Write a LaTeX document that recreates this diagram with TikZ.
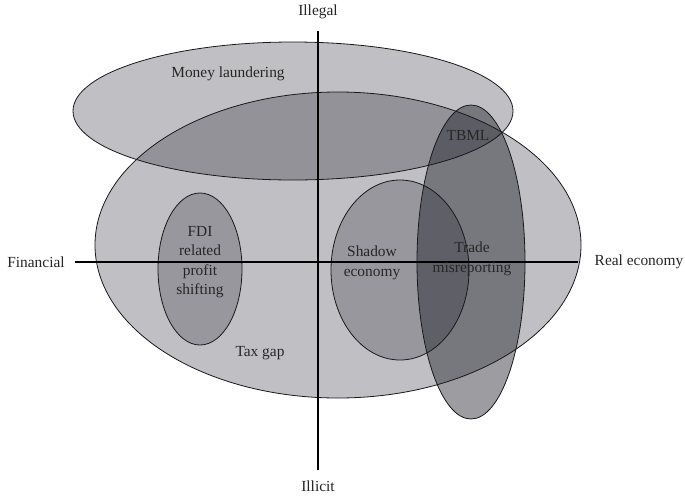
\documentclass[tikz,border=0pt]{standalone}
\usepackage{fontspec}
\setmainfont{Liberation Serif}
\begin{document}
\begin{tikzpicture}[x=1pt,y=-1pt,
  region/.style={fill={rgb,255:red,15;green,15;blue,28}},
  outline/.style={draw=black!90,line width=0.8pt},
  axisline/.style={draw=black,line width=1.6pt},
  lbl/.style={font=\fontsize{15.4}{19.5}\selectfont, align=center, text=black!85, inner sep=0pt}]
\useasboundingbox (0,0) rectangle (685,496);
\fill[white] (0,0) rectangle (685,496);
% fills
\fill[region, fill opacity=0.26] (338,245) ellipse [x radius=243pt, y radius=153pt];
\fill[region, fill opacity=0.26] (293,111) ellipse [x radius=220pt, y radius=69pt];
\fill[region, fill opacity=0.23] (200,269) ellipse [x radius=42pt, y radius=76pt];
\fill[region, fill opacity=0.23] (400,270) ellipse [x radius=69pt, y radius=90pt];
\fill[region, fill opacity=0.41] (471,262) ellipse [x radius=54pt, y radius=157pt];
% outlines
\draw[outline] (338,245) ellipse [x radius=243pt, y radius=153pt];
\draw[outline] (293,111) ellipse [x radius=220pt, y radius=69pt];
\draw[outline] (200,269) ellipse [x radius=42pt, y radius=76pt];
\draw[outline] (400,270) ellipse [x radius=69pt, y radius=90pt];
\draw[outline] (471,262) ellipse [x radius=54pt, y radius=157pt];
% axes
\coordinate (top) at (318,31);
\coordinate (bottom) at (318,470);
\coordinate (left) at (75,262);
\coordinate (right) at (578,262);
\draw[axisline] (top) -- (bottom);
\draw[axisline] (left) -- (right);
% labels
\node[lbl] (illegal) at (318,12) {Illegal};
\node[lbl] (illicit) at (318,486) {Illicit};
\node[lbl] (financial) at (36,262) {Financial};
\node[lbl] (real) at (639,262) {Real economy};
\node[lbl] (ml) at (228,74) {Money laundering};
\node[lbl] (tbml) at (468,135) {TBML};
\node[lbl] (fdi) at (200,262) {FDI\\related\\profit\\shifting};
\node[lbl] (shadow) at (372,263) {Shadow\\economy};
\node[lbl] (trade) at (472,259) {Trade\\misreporting};
\node[lbl] (taxgap) at (260,353) {Tax gap};
\end{tikzpicture}
\end{document}
